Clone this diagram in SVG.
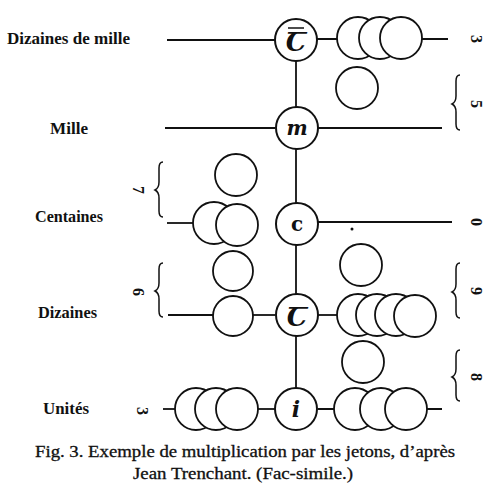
<svg xmlns="http://www.w3.org/2000/svg" width="500" height="490" viewBox="0 0 500 490">
<style>
.ln{stroke:#111;stroke-width:1.8;fill:none}
.tk{stroke:#111;stroke-width:1.8;fill:#fff}
.nd{stroke:#111;stroke-width:2;fill:#fff}
.lbl{font-family:"Liberation Serif",serif;font-weight:bold;font-size:16px;fill:#111}
.num{font-family:"Liberation Serif",serif;font-weight:bold;font-size:16px;fill:#111}
.sym{font-family:"DejaVu Serif","Liberation Serif",serif;font-weight:bold;fill:#111;text-anchor:middle}
.cap{font-family:"Liberation Serif",serif;font-size:16px;fill:#111;stroke:#111;stroke-width:0.3}
.br{stroke:#111;stroke-width:1.5;fill:none}
</style>
<rect width="500" height="490" fill="#fff"/>
<g id="connectors">
<line class="ln" x1="296" y1="40" x2="296" y2="408"/>
<line class="ln" x1="167" y1="40" x2="275" y2="40"/>
<line class="ln" x1="317" y1="39" x2="448" y2="39"/>
<line class="ln" x1="165" y1="128" x2="275" y2="128"/>
<line class="ln" x1="318" y1="128" x2="442" y2="128"/>
<line class="ln" x1="167" y1="223" x2="195" y2="223"/>
<line class="ln" x1="318" y1="222" x2="452" y2="222"/>
<line class="ln" x1="168" y1="315" x2="214" y2="315"/>
<line class="ln" x1="252" y1="315" x2="275" y2="315"/>
<line class="ln" x1="318" y1="315" x2="340" y2="315"/>
<line class="ln" x1="163" y1="409" x2="178" y2="409"/>
<line class="ln" x1="256" y1="409" x2="275" y2="409"/>
<line class="ln" x1="318" y1="409" x2="442" y2="409"/>
</g>
<g id="tokens-r1">
<circle class="tk" cx="358" cy="38" r="21"/>
<circle class="tk" cx="380" cy="38" r="21"/>
<circle class="tk" cx="401" cy="38" r="21"/>
<circle class="tk" cx="357" cy="88" r="21"/>
</g>
<g id="tokens-r3">
<circle class="tk" cx="236" cy="175" r="21"/>
<circle class="tk" cx="214" cy="223" r="21"/>
<circle class="tk" cx="237" cy="225" r="21"/>
</g>
<g id="tokens-r4">
<circle class="tk" cx="233" cy="271" r="20"/>
<circle class="tk" cx="233" cy="316" r="20"/>
<circle class="tk" cx="361" cy="265" r="21"/>
<circle class="tk" cx="358" cy="315" r="21"/>
<circle class="tk" cx="377" cy="315" r="21"/>
<circle class="tk" cx="396" cy="315" r="21"/>
<circle class="tk" cx="415" cy="316" r="21"/>
</g>
<g id="tokens-r5">
<circle class="tk" cx="196" cy="409" r="21"/>
<circle class="tk" cx="216" cy="409" r="21"/>
<circle class="tk" cx="237" cy="409" r="21"/>
<circle class="tk" cx="363" cy="362" r="21"/>
<circle class="tk" cx="355" cy="409" r="21"/>
<circle class="tk" cx="381" cy="409" r="21"/>
<circle class="tk" cx="406" cy="409" r="21"/>
</g>
<g id="node-dm">
<circle class="nd" cx="296" cy="40" r="21"/>
<line x1="288" y1="28" x2="304" y2="28" stroke="#111" stroke-width="1.5"/>
<text class="sym" x="296" y="51" font-size="26" font-style="italic">Ꞇ</text>
</g>
<g id="node-m">
<circle class="nd" cx="297" cy="128" r="21"/>
<text class="sym" x="297" y="135" font-size="20" font-style="italic">m</text>
</g>
<g id="node-c">
<circle class="nd" cx="297" cy="224" r="21"/>
<text class="sym" x="297" y="231" font-size="20">c</text>
</g>
<g id="node-d">
<circle class="nd" cx="297" cy="315" r="21"/>
<text class="sym" x="297" y="326" font-size="26" font-style="italic">Ꞇ</text>
</g>
<g id="node-u">
<circle class="nd" cx="296" cy="409" r="21"/>
<text class="sym" x="296" y="417" font-size="22" font-style="italic">i</text>
</g>
<g id="labels">
<text class="lbl" x="7" y="44" textLength="123" lengthAdjust="spacingAndGlyphs">Dizaines de mille</text>
<text class="lbl" x="50" y="134" textLength="38" lengthAdjust="spacingAndGlyphs">Mille</text>
<text class="lbl" x="35" y="222" textLength="68" lengthAdjust="spacingAndGlyphs">Centaines</text>
<text class="lbl" x="38" y="318" textLength="59" lengthAdjust="spacingAndGlyphs">Dizaines</text>
<text class="lbl" x="43" y="414" textLength="46" lengthAdjust="spacingAndGlyphs">Unités</text>
</g>
<g id="braces">
<path class="br" d="M460,75 q-4,0 -4,6 v15 q0,6 -4,8 q4,2 4,8 v12 q0,6 4,6"/>
<path class="br" d="M460,263 q-4,0 -4,6 v15 q0,6 -4,8 q4,2 4,8 v12 q0,6 4,6"/>
<path class="br" d="M460,350 q-4,0 -4,6 v13 q0,6 -4,8 q4,2 4,8 v10 q0,6 4,6"/>
<path class="br" d="M163,162 q-4,0 -4,6 v14 q0,6 -4,8 q4,2 4,8 v13 q0,6 4,6"/>
<path class="br" d="M163,263 q-4,0 -4,6 v14 q0,6 -4,8 q4,2 4,8 v12 q0,6 4,6"/>
</g>
<g id="numbers">
<text class="num" transform="translate(471,39) rotate(90)" text-anchor="middle">3</text>
<text class="num" transform="translate(471,104) rotate(90)" text-anchor="middle">5</text>
<text class="num" transform="translate(471,222) rotate(90)" text-anchor="middle">0</text>
<text class="num" transform="translate(471,291) rotate(90)" text-anchor="middle">9</text>
<text class="num" transform="translate(471,377) rotate(90)" text-anchor="middle">8</text>
<text class="num" transform="translate(133,190) rotate(90)" text-anchor="middle">7</text>
<text class="num" transform="translate(133,292) rotate(90)" text-anchor="middle">6</text>
<text class="num" transform="translate(137,411) rotate(90)" text-anchor="middle">3</text>
</g>
<circle cx="352" cy="229" r="1.5" fill="#111"/>
<g id="caption">
<text class="cap" x="35" y="457" textLength="420" lengthAdjust="spacingAndGlyphs">Fig. 3. Exemple de multiplication par les jetons, d’après</text>
<text class="cap" x="133" y="479" textLength="220" lengthAdjust="spacingAndGlyphs">Jean Trenchant. (Fac-simile.)</text>
</g>
</svg>
